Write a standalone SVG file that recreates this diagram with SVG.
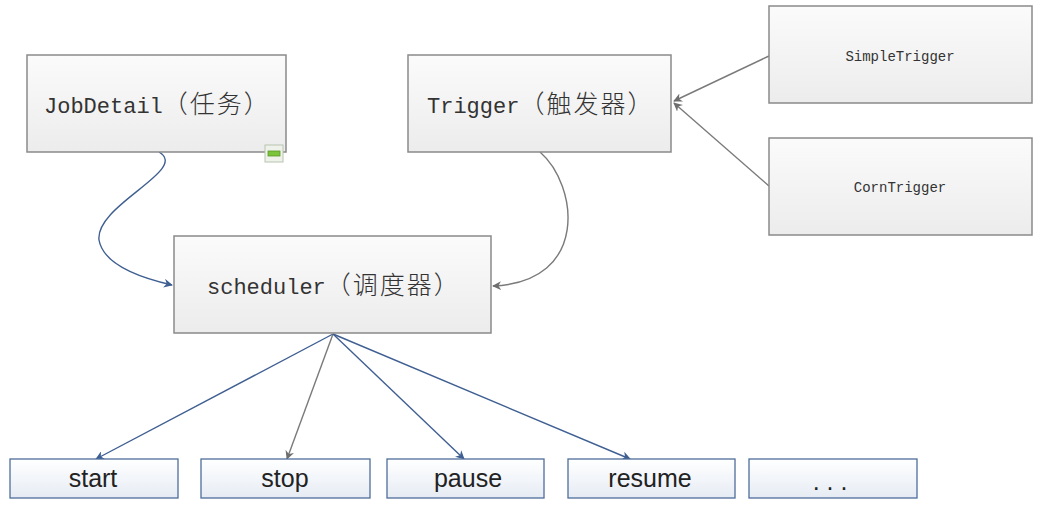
<svg xmlns="http://www.w3.org/2000/svg" width="1050" height="510" viewBox="0 0 1050 510">
<style>
.box{fill:url(#g1);stroke:#8a8a8a;stroke-width:1.5}
.bbox{fill:url(#g2);stroke:#4f6e9b;stroke-width:1.3}
.t{font-family:"Liberation Mono","Noto Sans CJK SC",monospace;font-size:22px;fill:#333}
.c{font-family:"Noto Sans CJK SC",sans-serif;font-size:25px;font-weight:300;letter-spacing:2px}
.ts{font-family:"Liberation Mono","Noto Sans CJK SC",monospace;font-size:14px;fill:#333;text-anchor:middle}
.tb{font-family:"Liberation Sans",Arial,sans-serif;font-size:25px;fill:#222;text-anchor:middle}
.blue{fill:none;stroke:#3f5f92;stroke-width:1.4}
.gray{fill:none;stroke:#7a7a7a;stroke-width:1.4}
</style>
<defs>
<linearGradient id="g1" x1="0" y1="0" x2="0" y2="1"><stop offset="0" stop-color="#fbfbfb"/><stop offset="1" stop-color="#ececec"/></linearGradient>
<linearGradient id="g2" x1="0" y1="0" x2="0" y2="1"><stop offset="0" stop-color="#ffffff"/><stop offset="1" stop-color="#e6ecf4"/></linearGradient>
<marker id="ab" viewBox="0 0 10 10" refX="9" refY="5" markerWidth="9" markerHeight="9" orient="auto" markerUnits="userSpaceOnUse"><path d="M0,0 L10,5 L0,10 L3,5 z" fill="#3f5f92"/></marker>
<marker id="ag" viewBox="0 0 10 10" refX="9" refY="5" markerWidth="9" markerHeight="9" orient="auto" markerUnits="userSpaceOnUse"><path d="M0,0 L10,5 L0,10 L3,5 z" fill="#6e6e6e"/></marker>
</defs>
<rect width="1050" height="510" fill="#ffffff"/>
<g id="connectors">
<path class="blue" d="M159,152 C190,170 95,205 99,240 C104,268 150,280 172,285" marker-end="url(#ab)"/>
<path class="gray" d="M540,152 C578,185 590,282 493,286" marker-end="url(#ag)"/>
<path class="gray" d="M769,56 L674,101" marker-end="url(#ag)"/>
<path class="gray" d="M769,186 L674,103" marker-end="url(#ag)"/>
<path class="blue" d="M333,334 L96,459" marker-end="url(#ab)"/>
<path class="gray" d="M333,334 L287,459" marker-end="url(#ag)"/>
<path class="blue" d="M333,334 L464,459" marker-end="url(#ab)"/>
<path class="blue" d="M333,334 L630,459" marker-end="url(#ab)"/>
</g>
<g id="jobdetail">
<rect class="box" x="27" y="55" width="259" height="97"/>
<text class="t" x="44" y="113">JobDetail<tspan class="c">（任务）</tspan></text>
<rect x="265" y="145" width="18" height="17" fill="#eef2ea" stroke="#b8c4b0" stroke-width="1"/>
<rect x="268" y="151" width="12" height="5" fill="#7cc43c" stroke="#5a9a2a" stroke-width="0.8"/>
</g>
<g id="trigger">
<rect class="box" x="408" y="55" width="263" height="97"/>
<text class="t" x="427" y="113">Trigger<tspan class="c">（触发器）</tspan></text>
</g>
<g id="simpletrigger">
<rect class="box" x="769" y="6" width="263" height="97"/>
<text class="ts" x="900" y="61">SimpleTrigger</text>
</g>
<g id="corntrigger">
<rect class="box" x="769" y="138" width="263" height="97"/>
<text class="ts" x="900" y="192">CornTrigger</text>
</g>
<g id="scheduler">
<rect class="box" x="174" y="236" width="317" height="97"/>
<text class="t" x="207" y="294">scheduler<tspan class="c">（调度器）</tspan></text>
</g>
<g id="start">
<rect class="bbox" x="10" y="459" width="168" height="39"/>
<text class="tb" x="93" y="487">start</text>
</g>
<g id="stop">
<rect class="bbox" x="201" y="459" width="169" height="39"/>
<text class="tb" x="285" y="487">stop</text>
</g>
<g id="pause">
<rect class="bbox" x="387" y="459" width="157" height="39"/>
<text class="tb" x="468" y="487">pause</text>
</g>
<g id="resume">
<rect class="bbox" x="568" y="459" width="167" height="39"/>
<text class="tb" x="650" y="487">resume</text>
</g>
<g id="more">
<rect class="bbox" x="749" y="459" width="168" height="39"/>
<text class="tb" x="830" y="490">. . .</text>
</g>
</svg>
